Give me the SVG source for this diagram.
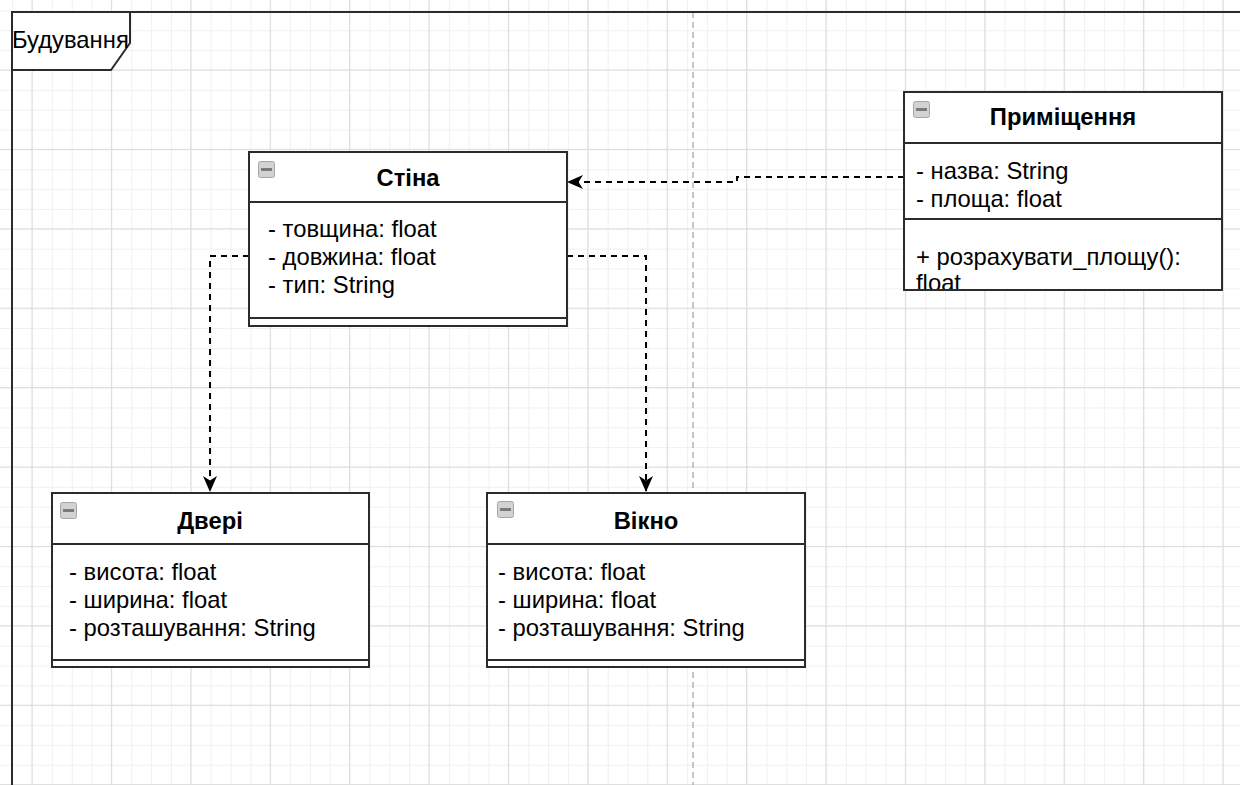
<svg xmlns="http://www.w3.org/2000/svg" width="1240" height="785" viewBox="0 0 1240 785">
  <defs>
    <pattern id="gridMinor" patternUnits="userSpaceOnUse" x="12.15" y="10.45" width="19.85" height="19.85">
      <path d="M0.5,0 V19.85 M0,0.5 H19.85" fill="none" stroke="#f0f0f0" stroke-width="1"/>
    </pattern>
    <pattern id="gridMajor" patternUnits="userSpaceOnUse" x="31.5" y="69.5" width="79.4" height="79.4">
      <path d="M0.5,0 V79.4 M0,0.5 H79.4" fill="none" stroke="#dcdcdc" stroke-width="1"/>
    </pattern>
    <marker id="arrow" markerUnits="userSpaceOnUse" viewBox="0 0 16 14" refX="16" refY="7" markerWidth="16" markerHeight="14" orient="auto">
      <path d="M0,0 L16,7 L0,14 L4.5,7 Z" fill="#000"/>
    </marker>
    <symbol id="icon" viewBox="0 0 17 17">
      <rect x="0.5" y="0.5" width="16" height="16" rx="2" fill="#d2d2d2" stroke="#a6a6a6"/>
      <rect x="3" y="7" width="11" height="3" fill="#7a7a7a"/>
    </symbol>
  </defs>
  <style>
    .box { fill: #ffffff; stroke: #2b2b2b; stroke-width: 2; }
    .sep { stroke: #2b2b2b; stroke-width: 2; fill: none; }
    .title { font-family: "Liberation Sans", Arial, sans-serif; font-size: 23.8px; font-weight: bold; fill: #000; text-anchor: middle; }
    .attr { font-family: "Liberation Sans", Arial, sans-serif; font-size: 23.8px; fill: #000; }
    .conn { fill: none; stroke: #000; stroke-width: 2; stroke-dasharray: 6 5; }
    .frame { fill: none; stroke: #2b2b2b; stroke-width: 2; }
  </style>

  <rect x="0" y="0" width="1240" height="785" fill="#ffffff"/>
  <rect x="0" y="0" width="1240" height="785" fill="url(#gridMinor)"/>
  <rect x="0" y="0" width="1240" height="785" fill="url(#gridMajor)"/>

  <!-- page break line -->
  <line x1="693" y1="12" x2="693" y2="785" stroke="#b4b4b4" stroke-width="1.5" stroke-dasharray="6 4"/>

  <!-- frame -->
  <g id="frame">
    <path class="frame" d="M12,785 V12 H1240"/>
    <path d="M12,12 H130 V43 L111,70 H12 Z" fill="#ffffff" stroke="#2b2b2b" stroke-width="2"/>
    <text x="12" y="48" class="attr">Будування</text>
  </g>

  <!-- connectors -->
  <g id="connectors">
    <path class="conn" d="M904,177 H737 V182 H567" marker-end="url(#arrow)"/>
    <path class="conn" d="M249,256 H210 V492" marker-end="url(#arrow)"/>
    <path class="conn" d="M567,256 H646 V492" marker-end="url(#arrow)"/>
  </g>

  <g id="stina">
    <rect class="box" x="249" y="152" width="318" height="174"/>
    <line class="sep" x1="249" y1="202" x2="567" y2="202"/>
    <line class="sep" x1="249" y1="318" x2="567" y2="318"/>
    <use href="#icon" x="258" y="161" width="17" height="17"/>
    <text class="title" x="408" y="186">Стіна</text>
    <text class="attr" x="268" y="237">- товщина: float</text>
    <text class="attr" x="268" y="265">- довжина: float</text>
    <text class="attr" x="268" y="293">- тип: String</text>
  </g>

  <g id="prymishchennia">
    <rect class="box" x="904" y="92" width="318" height="198"/>
    <line class="sep" x1="904" y1="143" x2="1222" y2="143"/>
    <line class="sep" x1="904" y1="219" x2="1222" y2="219"/>
    <use href="#icon" x="913" y="101" width="17" height="17"/>
    <text class="title" x="1063" y="125">Приміщення</text>
    <text class="attr" x="916" y="179">- назва: String</text>
    <text class="attr" x="916" y="207">- площа: float</text>
    <text class="attr" x="916" y="265">+ розрахувати_площу():</text>
    <text class="attr" x="916" y="291">float</text>
    <line class="sep" x1="904" y1="290" x2="1222" y2="290"/>
  </g>

  <g id="dveri">
    <rect class="box" x="52" y="493" width="317" height="174"/>
    <line class="sep" x1="52" y1="544" x2="369" y2="544"/>
    <line class="sep" x1="52" y1="660" x2="369" y2="660"/>
    <use href="#icon" x="60" y="502" width="17" height="17"/>
    <text class="title" x="210" y="529">Двері</text>
    <text class="attr" x="69" y="580">- висота: float</text>
    <text class="attr" x="69" y="608">- ширина: float</text>
    <text class="attr" x="69" y="636">- розташування: String</text>
  </g>

  <g id="vikno">
    <rect class="box" x="487" y="493" width="318" height="174"/>
    <line class="sep" x1="487" y1="544" x2="805" y2="544"/>
    <line class="sep" x1="487" y1="660" x2="805" y2="660"/>
    <use href="#icon" x="497" y="501" width="17" height="17"/>
    <text class="title" x="646" y="529">Вікно</text>
    <text class="attr" x="498" y="580">- висота: float</text>
    <text class="attr" x="498" y="608">- ширина: float</text>
    <text class="attr" x="498" y="636">- розташування: String</text>
  </g>
</svg>
